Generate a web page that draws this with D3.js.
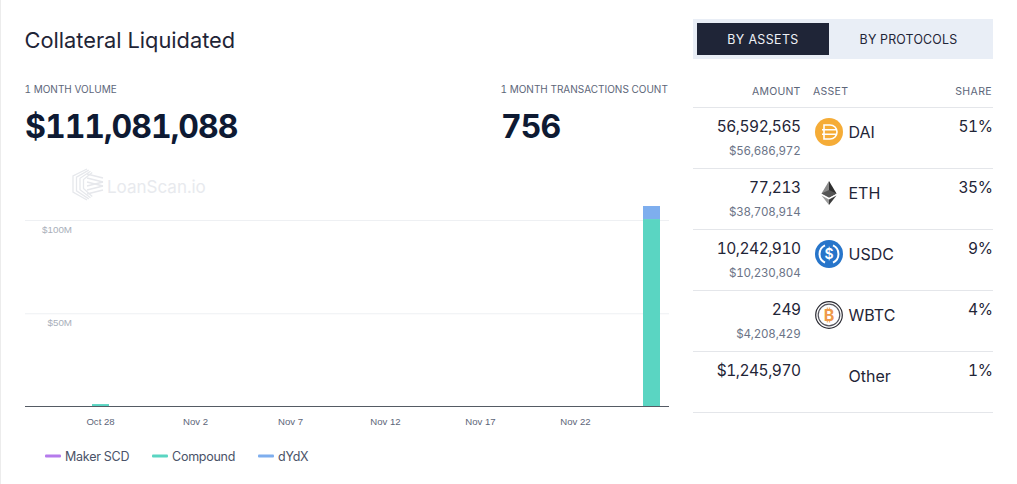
<!DOCTYPE html>
<html>
<head>
<meta charset="utf-8">
<title>Collateral Liquidated</title>
<style>
  html, body { margin: 0; padding: 0; background: #fff; }
  svg { display: block; font-family: "Inter", "Noto Sans", sans-serif; font-variant-numeric: tabular-nums; }
  .grid line { stroke: #eef0f3; }
  .grid path { display: none; }
  .grid text { fill: #a9afba; font-size: 9.8px; }
  .xaxis path, .xaxis line { display: none; }
  .xaxis text { fill: #5d6679; font-size: 9.6px; }
</style>
</head>
<body>
<svg id="chart" width="1017" height="484"></svg>
<script src="https://cdn.jsdelivr.net/npm/d3@7/dist/d3.min.js"></script>
<script>
// one entry per day, Oct 25 to Nov 26, values in $M
const days = ["Oct 25","Oct 26","Oct 27","Oct 28","Oct 29","Oct 30","Oct 31",
  "Nov 1","Nov 2","Nov 3","Nov 4","Nov 5","Nov 6","Nov 7","Nov 8","Nov 9","Nov 10",
  "Nov 11","Nov 12","Nov 13","Nov 14","Nov 15","Nov 16","Nov 17","Nov 18","Nov 19",
  "Nov 20","Nov 21","Nov 22","Nov 23","Nov 24","Nov 25","Nov 26"];
const makerScd = days.map(() => 0);
const compoundVals = [0,0,0,1.3,0,0,0,0,0,0,0,0,0,0,0,0,0,0,0,0,0,0,0,0,0,0,0,0,0,0,0,0,100.5];
const dydxVals = [0,0,0,0,0,0,0,0,0,0,0,0,0,0,0,0,0,0,0,0,0,0,0,0,0,0,0,0,0,0,0,0,7];
const tickDays = ["Oct 28","Nov 2","Nov 7","Nov 12","Nov 17","Nov 22"];
const yTicks = [50, 100];

const seriesNames = ["Maker SCD","Compound","dYdX"];
const seriesColors = ["#b57bec","#5ad5c2","#7eaeee"];

const amounts = ["56,592,565","77,213","10,242,910","249","$1,245,970"];
const usdValues = ["$56,686,972","$38,708,914","$10,230,804","$4,208,429",""];
const assets = ["DAI","ETH","USDC","WBTC","Other"];
const shares = ["51%","35%","9%","4%","1%"];

const svg = d3.select("#chart");
const ink = "#1f2537", grey = "#5d6679";

function label(x, y, txt, size, color, anchor, weight, spacing) {
  return svg.append("text").attr("x", x).attr("y", y).text(txt)
    .style("font-size", size + "px").style("fill", color)
    .style("text-anchor", anchor || "start")
    .style("font-weight", weight || 400)
    .style("letter-spacing", (spacing || 0) + "px");
}

// faint strip on the left edge of the page
svg.append("rect").attr("width", 1).attr("height", 484).attr("fill", "#ececec");

// headers
label(24.5, 48, "Collateral Liquidated", 21.8, ink);
label(24.5, 93, "1 MONTH VOLUME", 10, grey);
label(25, 138, "$111,081,088", 32, "#0e1a33", "start", 700, -1);
label(500.5, 93, "1 MONTH TRANSACTIONS COUNT", 10, grey);
label(501, 138, "756", 32, "#0e1a33", "start", 700, -1);

// watermark
const wm = svg.append("g").attr("transform", "translate(73,168)").attr("fill", "none")
  .attr("stroke", "#e6e8ec").attr("stroke-width", 1.3);
[0, 3.5, 7, 10.5].forEach(d => {
  wm.append("path").attr("d", `M${14 + d / 2} ${1 + d / 3} L${d} ${8 + d / 3} V${24 - d / 3} L${14 + d / 2} ${32 - d / 3}`);
});
[6, 10, 14, 18, 22, 26].forEach(h => {
  wm.append("path").attr("d", `M14 ${h} L30 ${h + (h < 16 ? 4 : -4)}`);
});
label(107, 193, "LoanScan.io", 17, "#e8eaee");

// chart
const x = d3.scaleBand().domain(days).range([35, 660]).paddingInner(2 / 19);
const y = d3.scaleLinear().domain([0, 100]).range([406.5, 220]);

const stack = d3.stack().keys(d3.range(3))
  .value((d, k) => [makerScd, compoundVals, dydxVals][k][d]);
const layers = stack(d3.range(days.length));

svg.append("g").attr("class", "grid").attr("transform", "translate(25,0)")
  .call(d3.axisRight(y).tickValues(yTicks).tickSize(644).tickFormat(d => "$" + d + "M"))
  .selectAll("text").attr("x", 47).attr("dy", 12.5).style("text-anchor", "end");

svg.append("g").selectAll("g").data(layers).enter().append("g")
  .attr("fill", (d, i) => seriesColors[i])
  .selectAll("rect").data(d => d).enter().append("rect")
  .attr("x", d => x(days[d.data]))
  .attr("width", x.bandwidth())
  .attr("y", d => y(d[1]))
  .attr("height", d => y(d[0]) - y(d[1]));

svg.append("line").attr("x1", 25).attr("x2", 669).attr("y1", 406.5).attr("y2", 406.5)
  .attr("stroke", "#555b64").attr("stroke-width", 1);

const xAxis = d3.scaleBand().domain(days).range([34, 661]);
svg.append("g").attr("class", "xaxis").attr("transform", "translate(0,406)")
  .call(d3.axisBottom(xAxis).tickValues(tickDays).tickSize(0).tickPadding(12));

// legend
const legendX = d3.scaleOrdinal().domain(seriesNames).range([45, 152, 258]);
seriesNames.forEach((n, i) => {
  svg.append("rect").attr("x", legendX(n)).attr("y", 454.5).attr("width", 16).attr("height", 3)
    .attr("rx", 1).attr("fill", seriesColors[i]);
  label(legendX(n) + 20, 461, n, 12.5, "#4a5368", "start", 400, -0.25);
});

// tabs
svg.append("rect").attr("x", 693).attr("y", 19).attr("width", 300).attr("height", 40).attr("fill", "#e9eef6");
svg.append("rect").attr("x", 697).attr("y", 23).attr("width", 132).attr("height", 32).attr("fill", "#1f2537");
label(763, 44, "BY ASSETS", 12.4, "#eef1f6", "middle", 400, 0.4);
label(908.5, 44, "BY PROTOCOLS", 12.4, ink, "middle", 400, 0.2);

// table
label(800.5, 95, "AMOUNT", 10.5, grey, "end", 400, 0.2);
label(813, 95, "ASSET", 10.5, grey, "start", 400, 0.3);
label(992, 95, "SHARE", 10.5, grey, "end", 400, 0.4);

const rowY = d3.scalePoint().domain(d3.range(6)).range([107.5, 412.5]);
d3.range(6).forEach(i => {
  svg.append("line").attr("x1", 693).attr("x2", 993).attr("y1", rowY(i)).attr("y2", rowY(i))
    .attr("stroke", "#e4e6ea");
});

const icons = {
  DAI: g => {
    g.append("circle").attr("r", 14).attr("fill", "#f5ac37");
    g.append("path").attr("fill", "none").attr("stroke", "#fff").attr("stroke-width", 1.6)
      .attr("d", "M-5 -7 H1 C5 -7 8 -4 8 0 C8 4 5 7 1 7 H-5 Z M-7 -2.2 H8 M-7 2.2 H8");
  },
  ETH: g => {
    g.append("path").attr("fill", "#8a8a8a").attr("d", "M0 -12 L-7.5 0.5 L0 4.5 Z");
    g.append("path").attr("fill", "#2f2f2f").attr("d", "M0 -12 L7.5 0.5 L0 4.5 Z");
    g.append("path").attr("fill", "#555").attr("d", "M-7.5 0.5 L0 -3 L7.5 0.5 L0 4.5 Z");
    g.append("path").attr("fill", "#9a9a9a").attr("d", "M-7.5 2.5 L0 12 V6.5 Z");
    g.append("path").attr("fill", "#3c3c3c").attr("d", "M7.5 2.5 L0 12 V6.5 Z");
  },
  USDC: g => {
    g.append("circle").attr("r", 14).attr("fill", "#2775ca");
    g.append("path").attr("fill", "none").attr("stroke", "#fff").attr("stroke-width", 2)
      .attr("d", "M-4 -8.6 A9.5 9.5 0 0 0 -4 8.6 M4 -8.6 A9.5 9.5 0 0 1 4 8.6");
    g.append("text").text("$").attr("y", 5).style("text-anchor", "middle")
      .style("font-size", "14px").style("font-weight", 600).style("fill", "#fff");
  },
  WBTC: g => {
    g.append("circle").attr("r", 13.3).attr("fill", "#fff").attr("stroke", "#2b2b33").attr("stroke-width", 1.2);
    g.append("circle").attr("r", 10.8).attr("fill", "#fff").attr("stroke", "#55555e").attr("stroke-width", 1.2);
    g.append("text").text("₿").attr("y", 6).style("text-anchor", "middle")
      .style("font-size", "16px").style("font-weight", 700).style("fill", "#ef9a4a");
  },
  Other: () => {}
};

assets.forEach((a, i) => {
  const top = rowY(i);
  label(800.5, top + 24.5, amounts[i], 15.5, ink, "end", 400, -0.5);
  if (usdValues[i]) label(800.5, top + 47.5, usdValues[i], 11.6, "#6b7487", "end", 400, -0.2);
  icons[a](svg.append("g").attr("transform", `translate(829,${top + 24.5})`));
  label(848.5, top + 30, a, 16, ink);
  label(992.5, top + 24, shares[i], 15.5, ink, "end", 400, -0.4);
});
</script>
</body>
</html>
